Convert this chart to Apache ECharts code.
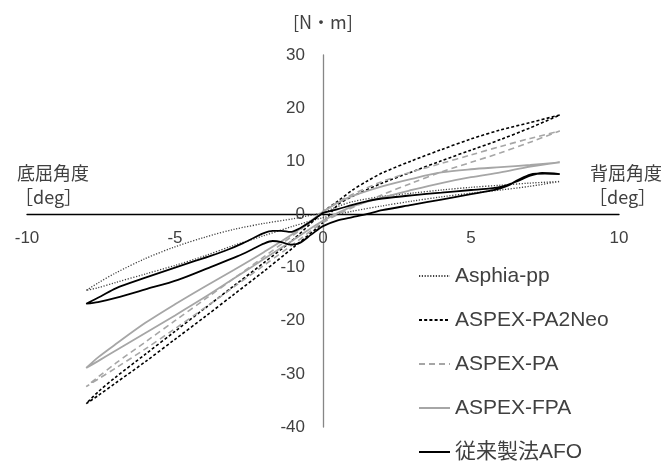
<!DOCTYPE html>
<html>
<head>
<meta charset="utf-8">
<script src="https://cdn.jsdelivr.net/npm/echarts@6/dist/echarts.min.js"></script>
<style>
html,body{margin:0;padding:0;background:#fff;}
#c{width:672px;height:462px;}
</style>
</head>
<body>
<div id="c"></div>
<script>
// ---- data (angle [deg], moment [N・m]) : each loop traced point by point ----
const seriesNames = ['Asphia-pp', 'ASPEX-PA2Neo', 'ASPEX-PA', 'ASPEX-FPA', '従来製法AFO'];
const xTicks = { min: -10, max: 10, step: 5 };
const yTicks = { min: -40, max: 30, step: 10 };

const asphiaPP = [
  [0,0.3],[0.5,1.5],[1,2.4],[2,3.4],[3,4.0],[4,4.6],[5,5.1],[6,5.5],[7,5.9],[8,6.2],
  [7,5.3],[6,4.6],[5,4.0],[4,3.3],[3,2.5],[2,1.6],[1,0.6],[0,-0.6],
  [-1,-2.2],[-2,-4.0],[-3,-5.8],[-4,-7.8],[-5,-9.6],[-6,-11.2],[-7,-12.8],[-7.6,-13.8],[-8,-14.3],
  [-7.6,-12.9],[-7,-11.0],[-6,-8.3],[-5,-6.1],[-4,-4.3],[-3,-2.8],[-2,-1.7],[-1,-0.8],[0,0.3]
];
const aspexPA2Neo = [
  [0,0.5],[0.5,2.5],[1,4.6],[1.5,6.3],[2,7.8],[3,10.1],[4,12.2],[5,14.2],[6,15.9],[7,17.3],[8,18.7],
  [7,16.3],[6,14.1],[5,12.1],[4,10.1],[3,8.0],[2,5.9],[1,3.4],[0.5,1.8],[0,-1.5],
  [-1,-6.2],[-2,-10.7],[-3,-15.0],[-4,-19.3],[-5,-23.5],[-6,-27.7],[-7,-31.7],[-7.6,-34.1],[-8,-35.6],
  [-7.6,-33.4],[-7,-30.6],[-6,-26.3],[-5,-22.0],[-4,-17.7],[-3,-13.4],[-2,-9.1],[-1,-4.7],[0,0.5]
];
const aspexPA = [
  [0,0.5],[0.5,2.3],[1,3.8],[2,6.2],[3,8.0],[4,9.6],[5,11.2],[6,12.8],[7,14.3],[8,15.7],
  [7,13.6],[6,11.6],[5,9.8],[4,8.0],[3,5.9],[2,3.7],[1,1.3],[0,-1.5],
  [-1,-5.6],[-2,-9.6],[-3,-13.6],[-4,-17.6],[-5,-21.5],[-6,-25.3],[-7,-28.9],[-7.6,-31.0],[-8,-32.4],
  [-7.6,-30.6],[-7,-28.0],[-6,-24.0],[-5,-20.0],[-4,-16.0],[-3,-12.0],[-2,-8.0],[-1,-3.9],[0,0.5]
];
const aspexFPA = [
  [0,0.5],[0.5,2.2],[1,3.5],[2,5.3],[3,6.7],[4,7.9],[5,8.5],[6,8.9],[7,9.3],[8,9.8],
  [7,9.0],[6,7.9],[5,7.0],[4,5.9],[3,4.6],[2,3.2],[1,1.5],[0,-1.2],
  [-1,-4.8],[-2,-8.4],[-3,-12.0],[-4,-15.6],[-5,-19.0],[-6,-22.3],[-7,-25.6],[-7.6,-27.6],[-8,-28.9],
  [-7.6,-26.9],[-7,-24.4],[-6,-20.4],[-5,-16.9],[-4,-13.6],[-3,-10.4],[-2,-7.1],[-1,-3.6],[0,0.5]
];
const conventionalAFO = [
  [0,0.3],[0.5,1.0],[1,1.8],[1.5,2.5],[2,3.0],[3,3.6],[4,4.1],[5,4.6],[5.5,4.8],[6,5.2],[6.5,6.1],[7,7.3],[7.4,7.8],[8,7.6],
  [7.5,7.7],[7,7.5],[6.6,6.5],[6.2,5.3],[5.8,4.6],[5,3.8],[4,2.8],[3,1.8],[2,0.8],[1.5,0.1],[1,-0.5],[0.5,-1.1],[0,-2.2],
  [-0.4,-3.8],[-0.8,-5.4],[-1.1,-5.7],[-1.4,-5.2],[-1.7,-5.0],[-2.0,-5.5],[-2.4,-6.6],[-2.9,-7.9],[-3.8,-9.9],[-4.9,-12.3],[-6,-14.1],[-7,-15.7],[-7.6,-16.5],[-8,-16.8],
  [-7.5,-15.4],[-7,-13.9],[-6,-11.9],[-5,-10.0],[-4.4,-8.9],[-3.8,-7.8],[-3.2,-6.6],[-2.7,-5.4],[-2.3,-4.3],[-2.0,-3.5],[-1.7,-3.1],[-1.4,-3.1],[-1.1,-3.3],[-0.75,-2.5],[-0.4,-1.3],[0,0.3]
];

const loops = [asphiaPP, aspexPA2Neo, aspexPA, aspexFPA, conventionalAFO];
const styles = [
  { color: '#404040', width: 1.3, type: [1.2, 1.6] },
  { color: '#000000', width: 1.6, type: [3, 2.2] },
  { color: '#a6a6a6', width: 1.6, type: [6, 4] },
  { color: '#a6a6a6', width: 1.8, type: 'solid' },
  { color: '#000000', width: 1.8, type: 'solid' }
];

const FONT = '"Liberation Sans", "Noto Sans CJK JP", sans-serif';
const JFONT = '"Noto Sans CJK JP", sans-serif';
const TXT = '#404040';

const W = 672, H = 462;
const G = { left: 27, right: 53, top: 55, bottom: 35 };
const gw = W - G.left - G.right, gh = H - G.top - G.bottom;
// axes cross at zero: shift each axis from its grid edge to the other axis' zero
const xAxisShift = gh * (0 - yTicks.min) / (yTicks.max - yTicks.min);
const yAxisShift = gw * (0 - xTicks.min) / (xTicks.max - xTicks.min);

const chart = echarts.init(document.getElementById('c'), null, { renderer: 'canvas' });
chart.setOption({
  animation: false,
  backgroundColor: '#ffffff',
  grid: { left: G.left, right: G.right, top: G.top, bottom: G.bottom, containLabel: false },
  xAxis: {
    type: 'value', min: xTicks.min, max: xTicks.max, interval: xTicks.step,
    position: 'bottom', offset: -xAxisShift,
    axisLine: { onZero: false, lineStyle: { color: '#000', width: 1.3 } },
    axisTick: { show: false },
    splitLine: { show: false },
    axisLabel: { color: TXT, fontSize: 17, fontFamily: FONT, margin: 15 }
  },
  yAxis: {
    type: 'value', min: yTicks.min, max: yTicks.max, interval: yTicks.step,
    position: 'left', offset: -yAxisShift,
    axisLine: { onZero: false, lineStyle: { color: '#868686', width: 1.3 } },
    axisTick: { show: false },
    splitLine: { show: false },
    axisLabel: { color: TXT, fontSize: 17, fontFamily: FONT, margin: 18 }
  },
  legend: {
    orient: 'vertical', left: 413, top: 260, height: 230,
    itemWidth: 31, itemHeight: 14, itemGap: 22,
    itemStyle: { color: 'rgba(0,0,0,0)', borderColor: 'rgba(0,0,0,0)', borderWidth: 0 },
    textStyle: { color: TXT, fontSize: 21, fontFamily: FONT, lineHeight: 22 },
    data: seriesNames
  },
  graphic: [
    { type: 'text', left: 293, top: 13, style: { text: '[N・m]', fontSize: 18, fontFamily: JFONT, fill: TXT } },
    { type: 'text', left: 17, top: 164, style: { text: '底屈角度', fontSize: 18, fontFamily: JFONT, fill: TXT } },
    { type: 'text', left: 15, top: 188, style: { text: '［deg］', fontSize: 18, fontFamily: JFONT, fill: TXT } },
    { type: 'text', left: 590, top: 164, style: { text: '背屈角度', fontSize: 18, fontFamily: JFONT, fill: TXT } },
    { type: 'text', left: 589, top: 188, style: { text: '［deg］', fontSize: 18, fontFamily: JFONT, fill: TXT } }
  ],
  series: loops.map((d, i) => ({
    name: seriesNames[i], type: 'line', data: d,
    showSymbol: false, symbol: 'none', smooth: 0.3,
    lineStyle: styles[i], itemStyle: { color: styles[i].color },
    z: 2 + i
  }))
});
</script>
</body>
</html>
